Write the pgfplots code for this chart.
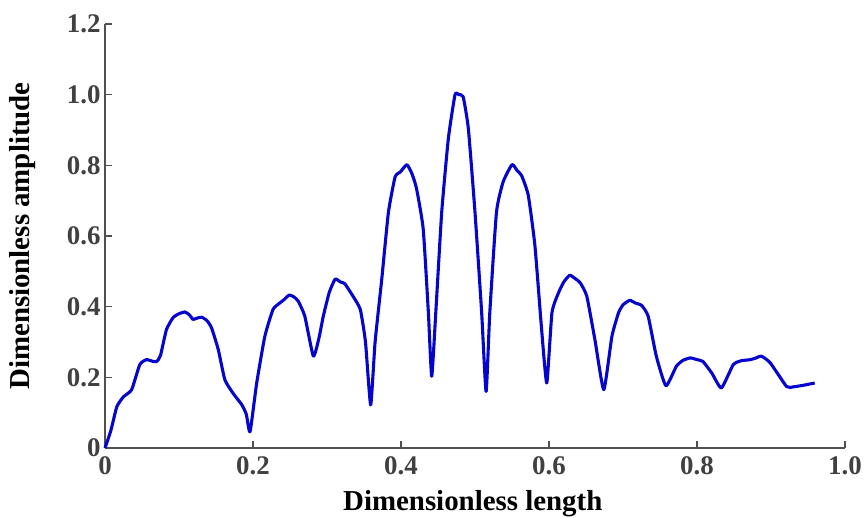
\documentclass[border=0pt]{standalone}
\usepackage{pgfplots}
\pgfplotsset{compat=1.18}
\usepackage{fontspec}
\setmainfont{Liberation Serif}
\definecolor{lineblue}{RGB}{5,5,205}
\definecolor{axgray}{RGB}{80,80,80}
\definecolor{tickgray}{RGB}{64,64,64}
\begin{document}
\begin{tikzpicture}
\path[use as bounding box] (-105bp,-70bp) rectangle (759bp,448bp);
\begin{axis}[
  at={(0,0)}, anchor=south west,
  scale only axis, width=740bp, height=424bp,
  xmin=0, xmax=1, ymin=0, ymax=1.2,
  axis lines=left,
  axis line style={-, axgray, line width=1.1bp},
  every tick/.style={axgray, line width=1.1bp},
  tick align=inside,
  major tick length=7bp,
  xtick={0,0.2,0.4,0.6,0.8,1.0},
  xticklabels={\textbf{0},\textbf{0.2},\textbf{0.4},\textbf{0.6},\textbf{0.8},\textbf{1.0}},
  ytick={0,0.2,0.4,0.6,0.8,1.0,1.2},
  yticklabels={\textbf{0},\textbf{0.2},\textbf{0.4},\textbf{0.6},\textbf{0.8},\textbf{1.0},\textbf{1.2}},
  tick label style={font=\fontsize{27}{30}\selectfont, text=tickgray},
  xticklabel style={yshift=-5bp},
  yticklabel style={xshift=-1bp},
  xlabel={\textbf{Dimensionless length}},
  ylabel={\textbf{Dimensionless amplitude}},
  every axis x label/.style={at={(axis description cs:0.497,-0.147)}, anchor=base, font=\fontsize{29}{33}\selectfont, text=black},
  every axis y label/.style={at={(axis description cs:-0.112,0.5)}, anchor=center, rotate=90, font=\fontsize{29}{33}\selectfont, text=black},
  clip=false,
]
\addplot[lineblue, line width=3.1bp, smooth, tension=0.3, line join=round] coordinates {
(0,0) (0.008,0.05) (0.016,0.117) (0.025,0.145) (0.036,0.165) (0.047,0.236)
(0.056,0.25) (0.065,0.245) (0.070,0.245) (0.075,0.262) (0.083,0.335) (0.092,0.369)
(0.100,0.38) (0.108,0.385) (0.114,0.377) (0.119,0.364) (0.125,0.368) (0.131,0.37)
(0.138,0.36) (0.144,0.34) (0.153,0.279) (0.162,0.193) (0.173,0.155) (0.185,0.122)
(0.191,0.095) (0.196,0.046) (0.205,0.184) (0.216,0.316) (0.227,0.392) (0.236,0.41)
(0.242,0.42) (0.249,0.433) (0.255,0.428) (0.261,0.416) (0.270,0.373) (0.2815,0.26)
(0.289,0.31) (0.295,0.373) (0.303,0.44) (0.311,0.478) (0.318,0.47) (0.324,0.465)
(0.335,0.43) (0.345,0.392) (0.352,0.3) (0.359,0.122) (0.365,0.3) (0.374,0.478)
(0.383,0.667) (0.392,0.767) (0.399,0.781) (0.408,0.802) (0.415,0.775) (0.421,0.734)
(0.430,0.62) (0.437,0.383) (0.4415,0.203) (0.447,0.383) (0.455,0.667) (0.464,0.876)
(0.473,1.0) (0.478,1.0) (0.484,0.994) (0.491,0.904) (0.500,0.667) (0.509,0.383)
(0.515,0.16) (0.520,0.383) (0.529,0.667) (0.538,0.753) (0.550,0.802) (0.557,0.785)
(0.563,0.771) (0.572,0.715) (0.581,0.572) (0.590,0.336) (0.597,0.184) (0.604,0.383)
(0.613,0.44) (0.620,0.47) (0.628,0.489) (0.635,0.48) (0.642,0.468) (0.651,0.43)
(0.662,0.307) (0.674,0.165) (0.685,0.316) (0.694,0.383) (0.700,0.405) (0.709,0.418)
(0.717,0.41) (0.725,0.404) (0.734,0.373) (0.745,0.26) (0.758,0.176) (0.772,0.231)
(0.781,0.248) (0.791,0.255) (0.800,0.25) (0.808,0.245) (0.820,0.212) (0.833,0.17)
(0.849,0.236) (0.860,0.247) (0.872,0.25) (0.880,0.255) (0.887,0.26) (0.899,0.241)
(0.921,0.174) (0.930,0.173) (0.945,0.178) (0.959,0.184)
};
\end{axis}
\end{tikzpicture}
\end{document}
